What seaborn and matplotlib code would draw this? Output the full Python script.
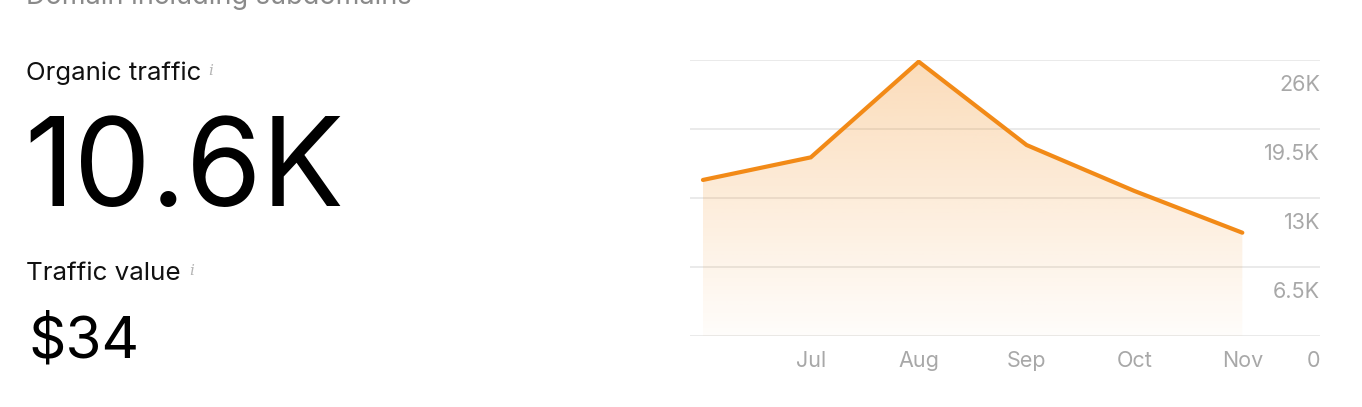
import matplotlib
matplotlib.use("Agg")
import matplotlib.pyplot as plt
import matplotlib.transforms as mtransforms
import numpy as np
import pandas as pd
import seaborn as sns

# data (visits per month)
months = ["Jun", "Jul", "Aug", "Sep", "Oct", "Nov"]
traffic = [14700, 16830, 25840, 17990, 13660, 9730]
y_ticks = [0, 6500, 13000, 19500, 26000]
y_tick_labels = ["0", "6.5K", "13K", "19.5K", "26K"]
x_tick_labels = ["Jul", "Aug", "Sep", "Oct", "Nov"]

organic_value = "10.6K"
traffic_value = "$34"

sns.set_theme(style="white")
plt.rcParams["font.family"] = ["Inter", "DejaVu Sans"]

ORANGE = "#f28a17"
GRID = "#e6e6e6"
TICK = "#a8a8a8"

df = pd.DataFrame({"idx": np.arange(len(months)), "month": months, "traffic": traffic})

fig = plt.figure(figsize=(13.62, 4.07), dpi=100)
ax = fig.add_axes([690 / 1362, (407 - 336) / 407, 630 / 1362, 276 / 407])

# gradient fill under the line
orange_rgb = np.array(matplotlib.colors.to_rgb(ORANGE))
alpha = np.linspace(0.02, 0.30, 256)[:, None]
grad = np.zeros((256, 1, 4))
grad[..., :3] = orange_rgb
grad[..., 3] = alpha
img = ax.imshow(grad, aspect="auto", origin="lower",
                extent=[df["idx"].min(), df["idx"].max(), 0, max(y_ticks)],
                zorder=1)
poly = ax.fill_between(df["idx"], df["traffic"], 0, color="none", lw=0)
img.set_clip_path(poly.get_paths()[0], transform=ax.transData)

sns.lineplot(data=df, x="idx", y="traffic", color=ORANGE, lw=3, ax=ax,
             zorder=3, solid_joinstyle="miter")

ax.set_xlim(-0.12, 5.72)
ax.set_ylim(0, max(y_ticks))
ax.set_yticks(y_ticks)
ax.set_yticklabels([])
ax.set_xticks(df["idx"][1:])
ax.set_xticklabels(x_tick_labels)
ax.grid(axis="y", color=GRID, lw=1.2)
ax.set_axisbelow(True)
for s in ax.spines.values():
    s.set_visible(False)
ax.set_xlabel("")
ax.set_ylabel("")
ax.tick_params(axis="both", length=0, labelsize=15.5, labelcolor=TICK)
ax.tick_params(axis="x", pad=11)

# y labels sit just under their gridline, right aligned
trans = mtransforms.blended_transform_factory(ax.transAxes, ax.transData)
shift = mtransforms.ScaledTranslation(0, -10.5 / 72, fig.dpi_scale_trans)
for val, lab in zip(y_ticks, y_tick_labels):
    ax.text(1.0, val, lab, transform=trans + shift, ha="right", va="top",
            fontsize=15.5, color=TICK)

# left-hand text block
fig.text(26 / 1362, 1 - 4 / 407, "Domain including subdomains", fontsize=19.5,
         color="#8a8a8a", va="baseline", ha="left")
fig.text(26 / 1362, 1 - 80 / 407, "Organic traffic", fontsize=18.5, color="#111111",
         va="baseline", ha="left")
fig.text(208 / 1362, 1 - 75 / 407, "i", fontsize=11, color="#b5b5b5",
         va="baseline", ha="left", family="DejaVu Serif", style="italic")
fig.text(24 / 1362, 1 - 206 / 407, organic_value, fontsize=88, color="#000000",
         va="baseline", ha="left")
fig.text(26 / 1362, 1 - 280 / 407, "Traffic value", fontsize=18.7, color="#111111",
         va="baseline", ha="left")
fig.text(189 / 1362, 1 - 275 / 407, "i", fontsize=11, color="#b5b5b5",
         va="baseline", ha="left", family="DejaVu Serif", style="italic")
fig.text(28 / 1362, 1 - 357 / 407, traffic_value, fontsize=42, color="#000000",
         va="baseline", ha="left")

fig.savefig("out.png", dpi=100, facecolor="white")
